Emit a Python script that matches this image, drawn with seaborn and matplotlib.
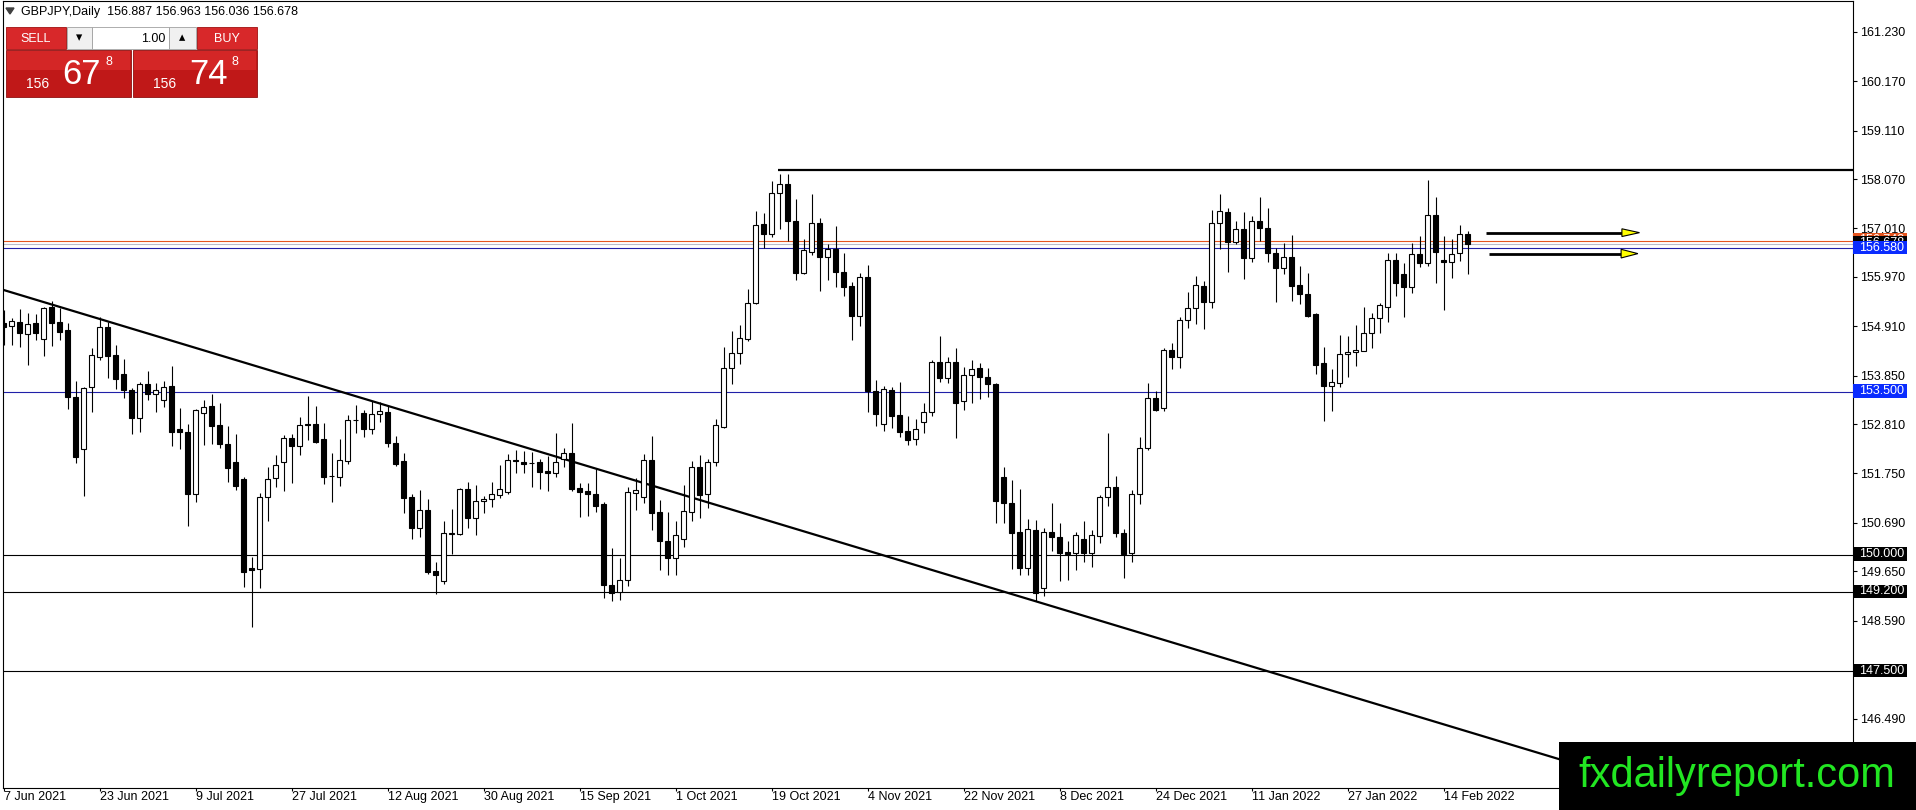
import numpy as np
import pandas as pd
import matplotlib
matplotlib.use("Agg")
import matplotlib.pyplot as plt
import matplotlib.transforms as mtransforms
from matplotlib.patches import Rectangle, Polygon
import seaborn as sns

# ---------------- data ----------------
first_day = "2021-06-07"

opens = [154.99, 154.92, 155.00, 154.75, 154.97, 154.63, 155.32, 155.00, 154.83, 153.39,
         152.27, 153.60, 154.26, 154.89, 154.29, 153.88, 153.54, 152.94, 153.67, 153.45,
         153.33, 153.63, 152.70, 152.65, 151.31, 153.04, 153.20, 152.79, 152.38, 152.00,
         151.63, 149.73, 149.69, 151.24, 151.65, 151.99, 152.51, 152.33, 152.81, 152.81,
         152.49, 151.70, 151.68, 152.02, 152.89, 153.04, 152.70, 153.02, 153.07, 152.40,
         152.02, 151.24, 150.57, 150.97, 149.66, 149.45, 150.46, 150.45, 151.42, 150.79,
         151.15, 151.21, 151.29, 151.36, 152.03, 152.00, 151.98, 152.00, 151.80, 151.75,
         152.06, 152.18, 151.43, 151.38, 151.32, 151.10, 149.36, 149.21, 149.46, 151.34,
         151.24, 152.04, 150.92, 150.30, 149.93, 150.34, 150.93, 151.88, 151.30, 151.99,
         152.75, 154.01, 154.33, 154.64, 155.40, 157.11, 156.89, 157.77, 157.96, 157.17,
         156.06, 156.51, 157.12, 156.40, 156.57, 156.07, 155.78, 155.14, 155.96, 153.53,
         152.81, 153.54, 153.01, 152.67, 152.48, 152.85, 153.06, 154.15, 153.79, 154.15,
         153.31, 153.87, 154.01, 153.82, 153.67, 151.67, 151.12, 150.49, 149.73, 150.54,
         149.29, 150.49, 150.39, 150.07, 150.05, 150.34, 150.04, 150.41, 151.24, 151.45,
         150.47, 150.04, 151.32, 152.29, 153.37, 153.15, 154.40, 154.24, 155.05, 155.30,
         155.78, 155.43, 157.12, 157.36, 156.71, 157.00, 156.37, 157.17, 157.01, 156.48,
         156.16, 156.39, 155.80, 155.60, 155.17, 154.13, 153.63, 153.70, 154.31, 154.35,
         154.39, 154.76, 155.08, 155.33, 156.33, 156.03, 155.76, 156.46, 156.27, 157.30,
         156.33, 156.28, 156.48, 156.887]
highs = [155.26, 155.08, 155.28, 155.19, 155.17, 155.33, 155.45, 155.31, 154.97, 153.74,
         153.61, 154.44, 155.10, 155.01, 154.51, 154.20, 153.58, 153.72, 153.95, 153.69,
         153.73, 154.06, 153.16, 152.81, 153.13, 153.33, 153.45, 153.26, 152.78, 152.60,
         151.68, 149.95, 151.34, 151.88, 152.15, 152.58, 152.60, 152.96, 153.41, 153.20,
         152.83, 152.18, 152.49, 153.01, 153.22, 153.11, 153.31, 153.29, 153.22, 152.55,
         152.20, 151.32, 151.40, 151.20, 149.86, 150.72, 150.98, 151.43, 151.57, 151.50,
         151.27, 151.57, 151.93, 152.16, 152.25, 152.24, 152.22, 152.07, 152.12, 152.61,
         152.29, 152.84, 151.54, 151.54, 151.84, 151.14, 150.15, 149.94, 151.47, 151.65,
         152.17, 152.55, 151.18, 150.93, 150.73, 151.50, 152.02, 152.15, 152.07, 152.92,
         154.47, 154.81, 154.94, 155.71, 157.39, 157.35, 158.03, 158.19, 158.17, 157.64,
         156.78, 157.74, 157.24, 156.68, 157.06, 156.48, 155.87, 156.06, 156.22, 153.76,
         153.63, 153.61, 153.71, 152.99, 152.92, 153.27, 154.19, 154.70, 154.26, 154.44,
         154.03, 154.19, 154.12, 154.02, 153.69, 151.88, 151.61, 151.41, 150.77, 150.75,
         150.57, 151.11, 150.68, 150.29, 150.49, 150.72, 150.54, 151.29, 152.61, 151.70,
         150.55, 151.40, 152.54, 153.69, 153.52, 154.44, 154.55, 155.12, 155.64, 155.99,
         155.89, 157.41, 157.75, 157.44, 157.17, 157.36, 157.28, 157.68, 157.44, 156.58,
         156.69, 156.88, 156.20, 156.05, 155.20, 154.46, 153.99, 154.72, 154.70, 154.94,
         155.33, 155.19, 155.42, 156.49, 156.49, 156.26, 156.69, 156.85, 158.05, 157.68,
         156.85, 156.78, 157.09, 156.963]
lows = [154.51, 154.51, 154.46, 154.08, 154.62, 154.28, 154.49, 154.62, 153.13, 151.97,
        151.27, 153.06, 154.19, 153.79, 153.56, 153.36, 152.60, 152.65, 153.33, 153.06,
        153.18, 152.33, 152.27, 150.63, 151.14, 152.36, 152.38, 152.30, 151.57, 151.40,
        149.31, 148.45, 149.29, 150.72, 151.47, 151.38, 151.54, 152.15, 152.47, 152.41,
        151.52, 151.14, 151.49, 151.95, 152.61, 152.54, 152.59, 152.85, 152.31, 151.90,
        150.90, 150.34, 150.39, 149.60, 149.16, 149.38, 150.02, 150.43, 150.59, 150.43,
        150.91, 151.04, 151.23, 151.32, 151.77, 151.77, 151.47, 151.42, 151.38, 151.68,
        151.88, 151.38, 150.81, 150.84, 150.93, 149.08, 149.01, 149.03, 149.33, 150.97,
        151.11, 150.54, 149.68, 149.57, 149.57, 150.18, 150.72, 150.79, 151.00, 151.92,
        152.72, 153.67, 154.10, 154.60, 155.38, 156.58, 156.83, 157.00, 156.74, 155.90,
        156.03, 156.44, 155.67, 155.90, 155.76, 155.57, 154.62, 154.92, 153.07, 152.78,
        152.67, 152.72, 152.54, 152.36, 152.36, 152.61, 152.99, 153.71, 153.69, 152.51,
        153.11, 153.26, 153.34, 153.39, 150.69, 150.68, 149.69, 149.57, 149.57, 149.01,
        149.12, 150.09, 149.45, 149.46, 149.68, 149.86, 149.75, 150.25, 151.06, 150.39,
        149.50, 149.86, 151.09, 152.25, 153.09, 153.09, 153.99, 154.02, 154.88, 154.96,
        154.85, 155.31, 156.57, 156.07, 156.68, 155.92, 156.30, 156.74, 156.28, 155.44,
        156.03, 155.46, 155.38, 155.12, 153.89, 152.88, 153.10, 153.61, 153.82, 154.06,
        154.37, 154.45, 154.77, 155.01, 155.55, 155.12, 155.63, 156.18, 156.21, 155.85,
        155.26, 155.94, 156.32, 156.036]
closes = [154.90, 155.03, 154.77, 154.95, 154.76, 155.30, 154.99, 154.79, 153.39, 152.11,
          153.58, 154.29, 154.89, 154.28, 153.77, 153.54, 152.95, 153.67, 153.45, 153.54,
          153.61, 152.63, 152.63, 151.32, 153.11, 153.17, 152.78, 152.38, 151.86, 151.49,
          149.64, 149.68, 151.24, 151.63, 151.93, 152.51, 152.33, 152.79, 152.79, 152.43,
          151.68, 151.69, 152.04, 152.90, 152.90, 152.70, 153.02, 153.09, 152.41, 151.95,
          151.23, 150.57, 150.97, 149.64, 149.56, 150.47, 150.47, 151.42, 150.79, 151.16,
          151.20, 151.30, 151.41, 152.04, 152.02, 151.96, 151.97, 151.79, 151.75, 152.00,
          152.18, 151.42, 151.36, 151.31, 151.05, 149.36, 149.18, 149.46, 151.35, 151.40,
          152.04, 150.91, 150.29, 149.93, 150.43, 150.94, 151.88, 151.29, 151.99, 152.79,
          154.01, 154.33, 154.65, 155.40, 157.09, 156.89, 157.77, 157.96, 157.16, 156.06,
          156.55, 157.12, 156.40, 156.57, 156.08, 155.76, 155.14, 155.96, 153.52, 153.02,
          153.56, 152.99, 152.65, 152.47, 152.70, 153.06, 154.15, 153.79, 154.15, 153.26,
          153.87, 153.99, 153.82, 153.67, 151.17, 151.12, 150.48, 149.73, 150.55, 149.18,
          150.49, 150.39, 150.04, 150.03, 150.42, 150.05, 150.42, 151.24, 151.45, 150.48,
          150.02, 151.32, 152.29, 153.37, 153.11, 154.40, 154.24, 155.05, 155.30, 155.80,
          155.43, 157.12, 157.39, 156.71, 157.00, 156.37, 157.17, 157.01, 156.48, 156.17,
          156.39, 155.78, 155.60, 155.14, 154.07, 153.63, 153.71, 154.32, 154.36, 154.40,
          154.76, 155.08, 155.37, 156.33, 155.83, 155.76, 156.46, 156.27, 157.30, 156.51,
          156.28, 156.46, 156.89, 156.678]

ytick_values = [161.23, 160.17, 159.11, 158.07, 157.01, 155.97, 154.91, 153.85,
                152.81, 151.75, 150.69, 149.65, 148.59, 147.53, 146.49]
xtick_labels = ["7 Jun 2021", "23 Jun 2021", "9 Jul 2021", "27 Jul 2021", "12 Aug 2021",
                "30 Aug 2021", "15 Sep 2021", "1 Oct 2021", "19 Oct 2021", "4 Nov 2021",
                "22 Nov 2021", "8 Dec 2021", "24 Dec 2021", "11 Jan 2022", "27 Jan 2022",
                "14 Feb 2022"]

level_prices = [153.500, 150.000, 149.200, 147.500]
level_kinds = ["blue", "black", "black", "black"]
ask_price = 156.748
bid_price = 156.678
blue_level = 156.580

resistance_price = 158.26
resistance_start_bar = 96.8

trend_bars = [0.0, 200.0]
trend_prices = [155.69, 145.33]

arrow_start_bars = [185.3, 185.7]
arrow_end_bars = [202.4, 202.3]
arrow_tip_bars = [204.5, 204.3]
arrow_prices = [156.92, 156.47]
arrow_half_heights = [0.083, 0.093]

header_text = "GBPJPY,Daily  156.887 156.963 156.036 156.678"

# ---------------- style ----------------
sns.set_theme(style="white")
plt.rcParams["font.family"] = ["Liberation Sans", "DejaVu Sans"]
plt.rcParams["axes.edgecolor"] = "black"
plt.rcParams["axes.linewidth"] = 0.75

W, H, DPI = 1916, 810, 100
fig = plt.figure(figsize=(W / DPI, H / DPI), dpi=DPI, facecolor="white")
px_left, px_right, px_top, px_bottom = 2.5, 1852.5, 0.5, 788.0
ax = fig.add_axes([px_left / W, 1 - px_bottom / H, (px_right - px_left) / W,
                   (px_bottom - px_top) / H])
ax.set_facecolor("white")

n = len(opens)
dates = pd.bdate_range(first_day, periods=n)
df = pd.DataFrame({"bar": np.arange(n), "open": opens, "high": highs,
                   "low": lows, "close": closes}, index=dates)

BLUE_LINE = "#2020a8"
BLUE_BOX = "#0a2cff"
ORANGE = "#e4541e"

# horizontal levels (full width)
for p, kind in zip(level_prices, level_kinds):
    ax.axhline(p, color=BLUE_LINE if kind == "blue" else "black", lw=0.8, zorder=1)
ax.axhline(ask_price, color=ORANGE, lw=0.8, zorder=1)
ax.axhline(bid_price, color="#b9bccb", lw=0.8, zorder=1)
ax.axhline(blue_level, color=BLUE_LINE, lw=0.8, zorder=1)

# resistance & trend line
ax.hlines(resistance_price, resistance_start_bar, 240, color="black", lw=1.6, zorder=2)
sns.lineplot(x=trend_bars, y=trend_prices, ax=ax, color="black", lw=1.6, zorder=2)

# candles
x = df["bar"].to_numpy()
o = df["open"].to_numpy(); c = df["close"].to_numpy()
hi = df["high"].to_numpy(); lo = df["low"].to_numpy()
up = c >= o
ax.vlines(x, lo, hi, color="black", lw=0.8, zorder=3)
ax.bar(x, np.maximum(np.abs(c - o), 0.012), bottom=np.minimum(o, c), width=0.56,
       color=np.where(up, "white", "black"), edgecolor="black", linewidth=0.8, zorder=4)

# arrows
for xs, xe, xt, yp, hh in zip(arrow_start_bars, arrow_end_bars, arrow_tip_bars,
                              arrow_prices, arrow_half_heights):
    ax.plot([xs, xe], [yp, yp], color="black", lw=2.0, zorder=5, solid_capstyle="butt")
    ax.add_patch(Polygon([(xe - 0.1, yp + hh), (xt, yp), (xe - 0.1, yp - hh)],
                         closed=True, fc="#ffff00", ec="black", lw=0.8, zorder=6))

# axes limits
ax.set_xlim(-0.125, 231.125)
ax.set_ylim(144.998, 161.904)

# y axis right
ax.yaxis.tick_right()
ax.set_yticks(ytick_values)
ax.set_yticklabels([f"{v:.3f}" for v in ytick_values])
ax.tick_params(axis="y", direction="out", length=3, width=0.8, pad=2.5,
               labelsize=9, colors="black", right=True, left=False)

# x axis
tick_dates = pd.to_datetime(xtick_labels, format="%d %b %Y")
tick_pos = dates.get_indexer(tick_dates)
ax.set_xticks(tick_pos)
ax.set_xticklabels(xtick_labels, ha="left")
ax.tick_params(axis="x", direction="out", length=2, width=0.8, pad=0.5,
               labelsize=9, colors="black", bottom=True)
ax.set_xlabel(""); ax.set_ylabel("")
for s in ax.spines.values():
    s.set_visible(True); s.set_color("black"); s.set_linewidth(0.8)

# price boxes on right axis (drawn in order, each covering the previous)
axw = px_right - px_left
trans = mtransforms.blended_transform_factory(ax.transAxes, ax.transData)
box_h = 13.5 / 46.58
boxes = [(ask_price, ORANGE), (bid_price, "black"), (blue_level, BLUE_BOX)]
boxes += [(p, BLUE_BOX if k == "blue" else "black") for p, k in zip(level_prices, level_kinds)]
for i, (p, col) in enumerate(boxes):
    r = Rectangle((1 + 0.5 / axw, p - box_h / 2 + 0.02), 53.5 / axw, box_h, transform=trans,
                  fc=col, ec=col, lw=0, clip_on=False, zorder=20 + 2 * i)
    ax.add_artist(r)
    ax.text(1 + 6.5 / axw, p + 0.02, f"{p:.3f}", transform=trans, ha="left", va="center",
            fontsize=9, color="white", zorder=21 + 2 * i, clip_on=False)

# ---------------- overlays in pixel coords ----------------
def frect(x0, y0, x1, y1, **kw):
    fig.add_artist(Rectangle((x0 / W, 1 - y1 / H), (x1 - x0) / W, (y1 - y0) / H,
                             transform=fig.transFigure, **kw))

def ftext(xp, yp, s, **kw):
    fig.text(xp / W, 1 - yp / H, s, **kw)

# header
fig.add_artist(Polygon([(6 / W, 1 - 8 / H), (14 / W, 1 - 8 / H), (10 / W, 1 - 14 / H)],
                       closed=True, transform=fig.transFigure, fc="#404040", ec="#404040"))
ftext(21, 11.5, header_text, fontsize=9, color="black", va="center", ha="left")

# trade panel
RED = "#d8282a"
frect(6, 27, 66, 49, fc=RED, ec="#a01010", lw=0.6)
ftext(36, 38.5, "SELL", fontsize=9, color="white", ha="center", va="center")
frect(67, 27, 92, 49, fc="#f0f0f0", ec="#a0a0a0", lw=0.6)
ftext(79.5, 38.5, "\u25BE", fontsize=9, color="black", ha="center", va="center")
frect(92, 27, 169, 49, fc="white", ec="#a0a0a0", lw=0.6)
ftext(165, 38.5, "1.00", fontsize=9, color="black", ha="right", va="center")
frect(169, 27, 196, 49, fc="#f0f0f0", ec="#a0a0a0", lw=0.6)
ftext(182.5, 38.5, "\u25B4", fontsize=9, color="black", ha="center", va="center")
frect(197, 27, 257, 49, fc=RED, ec="#a01010", lw=0.6)
ftext(227, 38.5, "BUY", fontsize=9, color="white", ha="center", va="center")

for x0, x1, big in [(6, 131, "67"), (133, 257, "74")]:
    frect(x0, 50, x1, 97, fc="#c01818", ec="#901010", lw=0.6)
    frect(x0 + 1, 51, x1 - 1, 70, fc="#d42626", ec="none", lw=0)
    ftext(x0 + 20, 84, "156", fontsize=10, color="white", ha="left", va="center")
    ftext(x0 + 56, 75, big, fontsize=25, color="white", ha="left", va="center")
    ftext(x0 + 99, 62, "8", fontsize=9, color="white", ha="left", va="center")

# logo
frect(1559, 742, 1916, 810, fc="black", ec="none", lw=0, zorder=30)
ftext(1737, 776, "fxdailyreport.com", fontsize=30, color="#22e622", ha="center",
      va="center", zorder=31)

fig.savefig("out.png", dpi=DPI, facecolor="white")
